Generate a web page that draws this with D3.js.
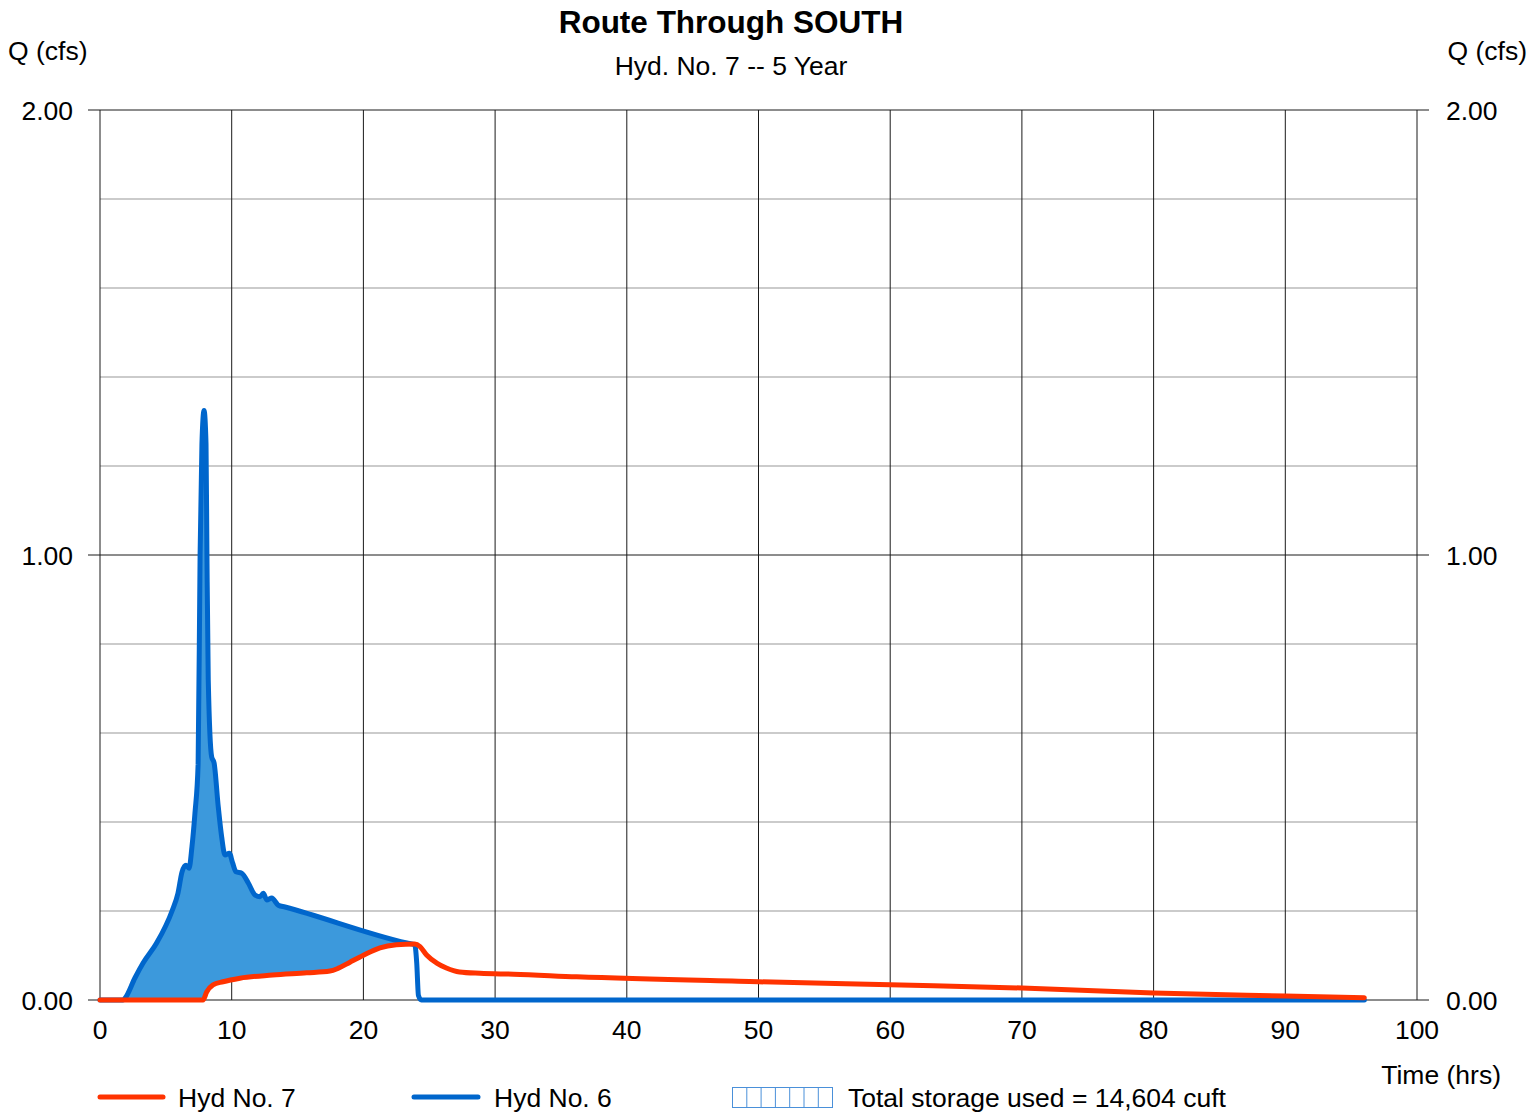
<!DOCTYPE html>
<html><head><meta charset="utf-8">
<script src="https://cdn.jsdelivr.net/npm/d3@7"></script>
<style>body{margin:0;background:#fff}svg{display:block;font-family:"Liberation Sans",Arial,sans-serif}</style>
</head><body>
<svg id="c" width="1533" height="1112"></svg>
<script>
// Hyd No. 6 (inflow)
const hyd6T = [0, 1.75, 1.9, 2.66, 3.27, 4.3, 5.47, 5.92, 6.23, 6.53, 6.76, 6.98, 7.21, 7.45, 7.6, 7.74, 7.9, 8.05, 8.12, 8.22, 8.48, 8.66, 8.98, 9.24, 9.49, 9.82, 10.07, 10.33, 10.76, 11.26, 11.77, 12.15, 12.4, 12.66, 13.04, 13.54, 14.05, 23.3, 23.9, 24.05, 24.18, 24.4, 96];
const hyd6Q = [0, 0, 0.004, 0.05, 0.083, 0.128, 0.2, 0.24, 0.288, 0.303, 0.296, 0.344, 0.42, 0.53, 1.0, 1.25, 1.325, 1.25, 1.0, 0.72, 0.546, 0.533, 0.434, 0.366, 0.326, 0.33, 0.308, 0.288, 0.285, 0.263, 0.236, 0.232, 0.24, 0.225, 0.229, 0.213, 0.209, 0.128, 0.124, 0.083, 0.01, 0, 0];
// Hyd No. 7 (outflow)
const hyd7T = [0, 7.82, 8.1, 8.58, 9.34, 10.63, 13.1, 15.7, 17.46, 18.07, 18.98, 19.97, 21.26, 22.5, 23.9, 24.3, 24.8, 25.57, 26.3, 27.3, 28.85, 31.4, 36.2, 50, 60, 70, 80, 90, 96];
const hyd7Q = [0, 0, 0.018, 0.034, 0.041, 0.049, 0.056, 0.061, 0.065, 0.071, 0.085, 0.1, 0.117, 0.124, 0.126, 0.12, 0.101, 0.083, 0.072, 0.063, 0.06, 0.058, 0.052, 0.041, 0.034, 0.027, 0.016, 0.009, 0.005];
const xTicks = [0,10,20,30,40,50,60,70,80,90,100];
const yMajor = [0, 1, 2];
const yMinor = [0.2,0.4,0.6,0.8,1.2,1.4,1.6,1.8];
const storageText = "Total storage used = 14,604 cuft";

const svg = d3.select("#c");
const L=100, R=1417, T=110, B=1000;
const FS = 26.5;
const x = d3.scaleLinear().domain([0,100]).range([L,R]);
const y = d3.scaleLinear().domain([0,2]).range([B,T]);

// minor grid
svg.append("g").selectAll("line").data(yMinor).join("line")
  .attr("x1",L).attr("x2",R).attr("y1",d=>y(d)).attr("y2",d=>y(d))
  .attr("stroke","#cbcbcb").attr("stroke-width",2.2);
// vertical grid
svg.append("g").selectAll("line").data(xTicks).join("line")
  .attr("x1",d=>x(d)).attr("x2",d=>x(d)).attr("y1",T).attr("y2",B)
  .attr("stroke","#1a1a1a").attr("stroke-width",1);
// major horizontal
svg.append("g").selectAll("line").data(yMajor).join("line")
  .attr("x1",L-12).attr("x2",R+12).attr("y1",d=>y(d)).attr("y2",d=>y(d))
  .attr("stroke","#1a1a1a").attr("stroke-width",1);

const p6 = hyd6T.map((t,i)=>[t,hyd6Q[i]]);
const p7 = hyd7T.map((t,i)=>[t,hyd7Q[i]]);
const line = d3.line().x(d=>x(d[0])).y(d=>y(d[1])).curve(d3.curveMonotoneX);

// fill between
const upperPts = p6.filter(d=>d[0]>=1.75 && d[0]<=23.9);
const lowerPts = p7.filter(d=>d[0]>=7.82 && d[0]<=23.9).reverse();
const fillPath = line(upperPts) + line(lowerPts).replace(/^M/,"L") + "L" + x(1.75) + "," + y(0) + "Z";
svg.append("path").attr("d",fillPath).attr("fill","#3c99dc");

svg.append("path").attr("d",line(p6)).attr("fill","none").attr("stroke","#0066cc")
  .attr("stroke-width",5).attr("stroke-linejoin","round").attr("stroke-linecap","round");
svg.append("path").attr("d",line(p7)).attr("fill","none").attr("stroke","#ff3300")
  .attr("stroke-width",5).attr("stroke-linejoin","round").attr("stroke-linecap","round");

// labels
const fmt = d3.format(".2f");
svg.append("g").selectAll("text").data(yMajor).join("text")
  .attr("x",73).attr("y",d=>y(d)+9.5).attr("text-anchor","end").attr("font-size",FS).text(d=>fmt(d));
svg.append("g").selectAll("text").data(yMajor).join("text")
  .attr("x",1446).attr("y",d=>y(d)+9.5).attr("text-anchor","start").attr("font-size",FS).text(d=>fmt(d));
svg.append("g").selectAll("text").data(xTicks).join("text")
  .attr("x",d=>x(d)).attr("y",1039).attr("text-anchor","middle").attr("font-size",FS).text(d=>d);

svg.append("text").attr("x",731).attr("y",33).attr("text-anchor","middle").attr("font-size",31.5).attr("font-weight","bold").text("Route Through SOUTH");
svg.append("text").attr("x",731).attr("y",75).attr("text-anchor","middle").attr("font-size",FS).text("Hyd. No. 7 -- 5 Year");
svg.append("text").attr("x",8).attr("y",60).attr("font-size",FS).text("Q (cfs)");
svg.append("text").attr("x",1527).attr("y",60).attr("text-anchor","end").attr("font-size",FS).text("Q (cfs)");
svg.append("text").attr("x",1501).attr("y",1084).attr("text-anchor","end").attr("font-size",FS).text("Time (hrs)");

// legend
const lg = svg.append("g");
lg.append("line").attr("x1",100).attr("x2",163).attr("y1",1097).attr("y2",1097).attr("stroke","#ff3300").attr("stroke-width",5).attr("stroke-linecap","round");
lg.append("text").attr("x",178).attr("y",1107).attr("font-size",FS).text("Hyd No. 7");
lg.append("line").attr("x1",414).attr("x2",478).attr("y1",1097).attr("y2",1097).attr("stroke","#0066cc").attr("stroke-width",5).attr("stroke-linecap","round");
lg.append("text").attr("x",494).attr("y",1107).attr("font-size",FS).text("Hyd No. 6");
lg.append("rect").attr("x",732.5).attr("y",1087.5).attr("width",100).attr("height",20).attr("fill","none").attr("stroke","#4a90d9").attr("stroke-width",1);
lg.selectAll("line.c").data(d3.range(1,7)).join("line").attr("class","c")
  .attr("x1",d=>732.5+d*14.3).attr("x2",d=>732.5+d*14.3).attr("y1",1087.5).attr("y2",1107.5)
  .attr("stroke","#4a90d9").attr("stroke-width",1);
lg.append("text").attr("x",848).attr("y",1107).attr("font-size",FS).text(storageText);
</script>
</body></html>
